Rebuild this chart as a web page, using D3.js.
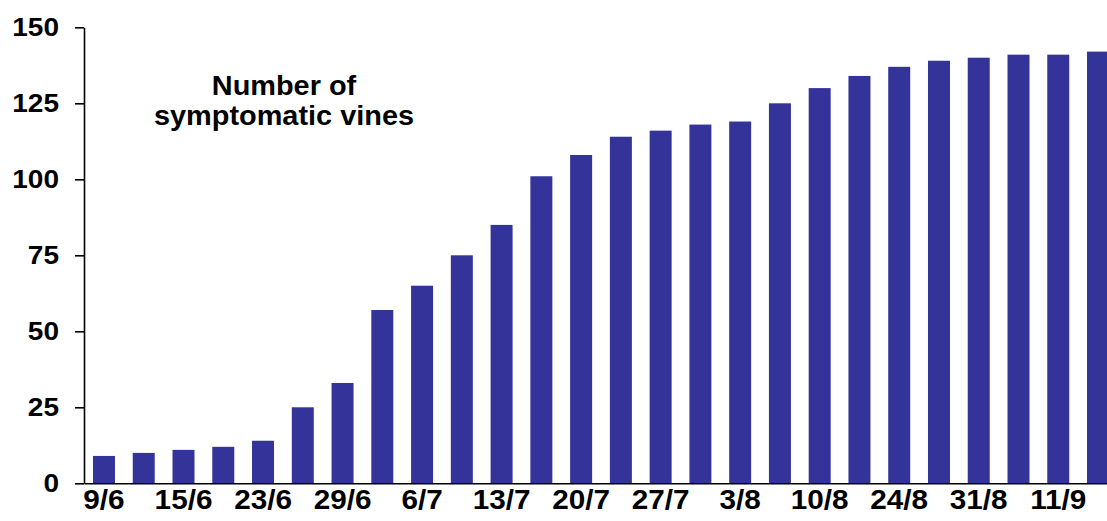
<!DOCTYPE html>
<html>
<head>
<meta charset="utf-8">
<script src="https://cdn.jsdelivr.net/npm/d3@7"></script>
<style>
  body { margin: 0; background: #fff; }
  svg { display: block; }
  text { font-family: "Liberation Sans", Arial, Helvetica, sans-serif; font-weight: bold; fill: #000; }
</style>
</head>
<body>
<svg id="chart" width="1107" height="521"></svg>
<script>
// Cumulative count of symptomatic vines per survey date
const vines = [9, 10, 11, 12, 14, 25, 33, 57, 65, 75, 85, 101, 108, 114, 116, 118, 119, 125, 130, 134, 137, 139, 140, 141, 141, 142];
// Survey dates shown under every other bar
const dateLabels = ["9/6", "15/6", "23/6", "29/6", "6/7", "13/7", "20/7", "27/7", "3/8", "10/8", "24/8", "31/8", "11/9"];
const yTicks = [0, 25, 50, 75, 100, 125, 150];
const titleLines = ["Number of", "symptomatic vines"];

const svg = d3.select("#chart");
const barColor = "#333399";
const stretch = 1.1; // labels are set slightly wide

const y = d3.scaleLinear().domain([0, 150]).range([483.3, 27.3]);
const x = d3.scaleBand()
  .domain(d3.range(vines.length))
  .range([84, 1118])
  .paddingInner(0.447)
  .paddingOuter(0.226);

// bars
svg.append("g")
  .selectAll("rect")
  .data(vines)
  .join("rect")
  .attr("x", (d, i) => x(i))
  .attr("y", d => y(d))
  .attr("width", x.bandwidth())
  .attr("height", d => y(0) - y(d))
  .attr("fill", barColor);

// x axis: labels under even-indexed bars
const xAxis = d3.axisBottom(x)
  .tickValues(d3.range(0, vines.length, 2))
  .tickFormat(i => dateLabels[i / 2])
  .tickSize(0)
  .tickPadding(7);

const gx = svg.append("g")
  .attr("transform", `translate(0,${y(0)})`)
  .call(xAxis);
gx.select(".domain").attr("stroke", "#000").attr("stroke-width", 1.6);
gx.selectAll("text")
  .style("font-size", "27px")
  .attr("fill", "#000")
  .attr("transform", `scale(${stretch},1)`);

// y axis
const yAxis = d3.axisLeft(y)
  .tickValues(yTicks)
  .tickSize(9)
  .tickSizeOuter(0)
  .tickPadding(17);

const gy = svg.append("g")
  .attr("transform", "translate(84,0)")
  .call(yAxis);
gy.select(".domain").attr("stroke", "#000").attr("stroke-width", 1.6);
gy.selectAll(".tick line").attr("stroke", "#000").attr("stroke-width", 1.6);
gy.selectAll("text")
  .style("font-size", "25px")
  .attr("fill", "#000")
  .attr("x", 0)
  .attr("transform", `translate(-25,0) scale(1.12,1)`);

// chart caption inside the plot area
svg.append("g")
  .attr("transform", `translate(284,0) scale(1.07,1)`)
  .append("text")
  .attr("text-anchor", "middle")
  .style("font-size", "27px")
  .selectAll("tspan")
  .data(titleLines)
  .join("tspan")
  .attr("x", 0)
  .attr("y", (d, i) => 95 + i * 30)
  .text(d => d);
</script>
</body>
</html>
